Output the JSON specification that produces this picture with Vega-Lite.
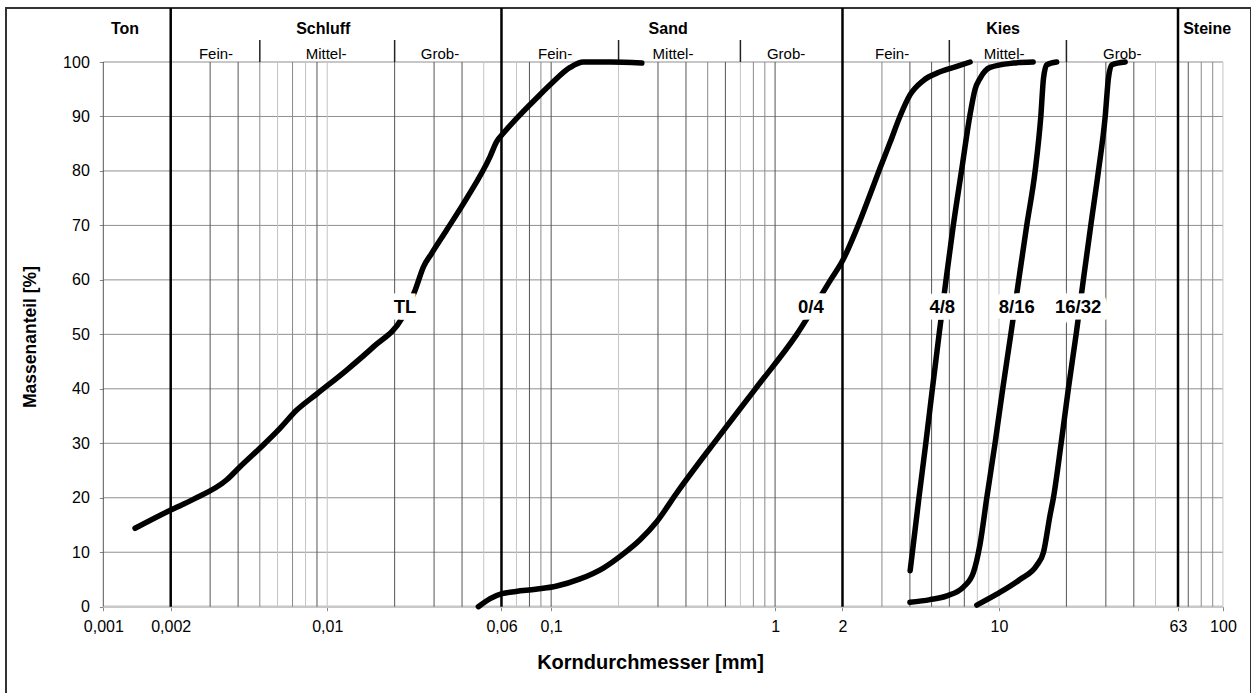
{
  "$schema": "https://vega.github.io/schema/vega-lite/v6.json",
  "width": 1245,
  "height": 686,
  "autosize": {"type": "none"},
  "padding": {"left": 6, "top": 8, "right": 0, "bottom": 0},
  "background": "white",
  "config": {
    "view": {"stroke": "#333333", "strokeWidth": 2},
    "font": "Liberation Sans"
  },
  "datasets": {
    "sieblinien": [
      {"kurve": "TL", "d": 0.001386, "p": 14.4},
      {"kurve": "TL", "d": 0.002, "p": 17.75},
      {"kurve": "TL", "d": 0.00252, "p": 19.7},
      {"kurve": "TL", "d": 0.00356, "p": 23.3},
      {"kurve": "TL", "d": 0.00408, "p": 25.7},
      {"kurve": "TL", "d": 0.00518, "p": 29.7},
      {"kurve": "TL", "d": 0.00615, "p": 32.75},
      {"kurve": "TL", "d": 0.00731, "p": 36.1},
      {"kurve": "TL", "d": 0.00898, "p": 39.05},
      {"kurve": "TL", "d": 0.01222, "p": 43.45},
      {"kurve": "TL", "d": 0.01607, "p": 47.7},
      {"kurve": "TL", "d": 0.0215, "p": 52.9},
      {"kurve": "TL", "d": 0.0247, "p": 58.1},
      {"kurve": "TL", "d": 0.0269, "p": 62.4},
      {"kurve": "TL", "d": 0.0293, "p": 64.9},
      {"kurve": "TL", "d": 0.0342, "p": 69.2},
      {"kurve": "TL", "d": 0.042, "p": 75},
      {"kurve": "TL", "d": 0.0533, "p": 82.6},
      {"kurve": "TL", "d": 0.0571, "p": 85.4},
      {"kurve": "TL", "d": 0.0611, "p": 86.9},
      {"kurve": "TL", "d": 0.0726, "p": 90.3},
      {"kurve": "TL", "d": 0.0862, "p": 93.4},
      {"kurve": "TL", "d": 0.1, "p": 96},
      {"kurve": "TL", "d": 0.1215, "p": 99},
      {"kurve": "TL", "d": 0.1393, "p": 100},
      {"kurve": "TL", "d": 0.1833, "p": 100},
      {"kurve": "TL", "d": 0.254, "p": 99.8},

      {"kurve": "0/4", "d": 0.0473, "p": 0},
      {"kurve": "0/4", "d": 0.0534, "p": 1.5},
      {"kurve": "0/4", "d": 0.0603, "p": 2.4},
      {"kurve": "0/4", "d": 0.0697, "p": 2.8},
      {"kurve": "0/4", "d": 0.0853, "p": 3.2},
      {"kurve": "0/4", "d": 0.106, "p": 3.8},
      {"kurve": "0/4", "d": 0.1346, "p": 5.1},
      {"kurve": "0/4", "d": 0.171, "p": 7.1},
      {"kurve": "0/4", "d": 0.21, "p": 9.7},
      {"kurve": "0/4", "d": 0.2495, "p": 12.3},
      {"kurve": "0/4", "d": 0.296, "p": 15.6},
      {"kurve": "0/4", "d": 0.364, "p": 20.9},
      {"kurve": "0/4", "d": 0.532, "p": 30},
      {"kurve": "0/4", "d": 0.817, "p": 40},
      {"kurve": "0/4", "d": 1.25, "p": 50},
      {"kurve": "0/4", "d": 1.77, "p": 60},
      {"kurve": "0/4", "d": 2.0, "p": 63.5},
      {"kurve": "0/4", "d": 2.35, "p": 70},
      {"kurve": "0/4", "d": 2.63, "p": 75.2},
      {"kurve": "0/4", "d": 2.94, "p": 80.5},
      {"kurve": "0/4", "d": 3.26, "p": 85.2},
      {"kurve": "0/4", "d": 3.61, "p": 90},
      {"kurve": "0/4", "d": 4.01, "p": 94},
      {"kurve": "0/4", "d": 4.59, "p": 96.6},
      {"kurve": "0/4", "d": 5.46, "p": 98.2},
      {"kurve": "0/4", "d": 6.48, "p": 99.2},
      {"kurve": "0/4", "d": 7.43, "p": 100},

      {"kurve": "4/8", "d": 4.01, "p": 6.6},
      {"kurve": "4/8", "d": 4.39, "p": 20},
      {"kurve": "4/8", "d": 4.71, "p": 30},
      {"kurve": "4/8", "d": 5.04, "p": 40},
      {"kurve": "4/8", "d": 5.40, "p": 50},
      {"kurve": "4/8", "d": 5.80, "p": 60},
      {"kurve": "4/8", "d": 6.25, "p": 70},
      {"kurve": "4/8", "d": 6.80, "p": 80},
      {"kurve": "4/8", "d": 7.40, "p": 90},
      {"kurve": "4/8", "d": 7.82, "p": 95},
      {"kurve": "4/8", "d": 8.23, "p": 97},
      {"kurve": "4/8", "d": 9.12, "p": 99},
      {"kurve": "4/8", "d": 11.6, "p": 99.8},
      {"kurve": "4/8", "d": 14.2, "p": 100},

      {"kurve": "8/16", "d": 4.0, "p": 0.8},
      {"kurve": "8/16", "d": 4.92, "p": 1.3},
      {"kurve": "8/16", "d": 5.85, "p": 2},
      {"kurve": "8/16", "d": 6.93, "p": 3.6},
      {"kurve": "8/16", "d": 7.69, "p": 6.3},
      {"kurve": "8/16", "d": 8.23, "p": 11.5},
      {"kurve": "8/16", "d": 8.82, "p": 20},
      {"kurve": "8/16", "d": 9.6, "p": 30},
      {"kurve": "8/16", "d": 10.39, "p": 40},
      {"kurve": "8/16", "d": 11.29, "p": 50},
      {"kurve": "8/16", "d": 12.25, "p": 60},
      {"kurve": "8/16", "d": 13.3, "p": 70},
      {"kurve": "8/16", "d": 14.5, "p": 80},
      {"kurve": "8/16", "d": 15.37, "p": 90},
      {"kurve": "8/16", "d": 15.8, "p": 97},
      {"kurve": "8/16", "d": 16.35, "p": 99.5},
      {"kurve": "8/16", "d": 18.1, "p": 100},

      {"kurve": "16/32", "d": 7.96, "p": 0.3},
      {"kurve": "16/32", "d": 9.77, "p": 2.3},
      {"kurve": "16/32", "d": 12.4, "p": 5},
      {"kurve": "16/32", "d": 14.75, "p": 7.6},
      {"kurve": "16/32", "d": 15.8, "p": 10},
      {"kurve": "16/32", "d": 16.9, "p": 16.8},
      {"kurve": "16/32", "d": 17.5, "p": 20},
      {"kurve": "16/32", "d": 18.94, "p": 30},
      {"kurve": "16/32", "d": 20.4, "p": 40},
      {"kurve": "16/32", "d": 22.1, "p": 50},
      {"kurve": "16/32", "d": 23.8, "p": 60},
      {"kurve": "16/32", "d": 25.7, "p": 70},
      {"kurve": "16/32", "d": 27.8, "p": 80},
      {"kurve": "16/32", "d": 29.8, "p": 90},
      {"kurve": "16/32", "d": 30.8, "p": 97},
      {"kurve": "16/32", "d": 31.9, "p": 99.5},
      {"kurve": "16/32", "d": 36.6, "p": 100}
    ],
    "beschriftung": [
      {"kurve": "TL", "d": 0.02226, "p": 53.9},
      {"kurve": "0/4", "d": 1.445, "p": 53.9},
      {"kurve": "4/8", "d": 5.58, "p": 53.9},
      {"kurve": "8/16", "d": 12.0, "p": 53.9},
      {"kurve": "16/32", "d": 22.56, "p": 53.9}
    ],
    "waagerecht": [
      {"p": 10}, {"p": 20}, {"p": 30}, {"p": 40}, {"p": 50},
      {"p": 60}, {"p": 70}, {"p": 80}, {"p": 90}, {"p": 100}
    ],
    "raster_dunkel": [
      {"d": 0.001}, {"d": 0.003}, {"d": 0.004}, {"d": 0.009}, {"d": 0.02},
      {"d": 0.03}, {"d": 0.04}, {"d": 0.08}, {"d": 0.1}, {"d": 0.3},
      {"d": 0.4}, {"d": 0.6}, {"d": 1}, {"d": 4}, {"d": 5},
      {"d": 6}, {"d": 7}, {"d": 20}, {"d": 30}, {"d": 40}, {"d": 70}
    ],
    "raster_mittel": [
      {"d": 0.005}, {"d": 0.007}, {"d": 0.09}, {"d": 0.5}, {"d": 0.8},
      {"d": 0.9}, {"d": 3}, {"d": 80}, {"d": 90}
    ],
    "raster_hell": [
      {"d": 0.006}, {"d": 0.008}, {"d": 0.01}, {"d": 0.05}, {"d": 0.07},
      {"d": 0.2}, {"d": 0.7}, {"d": 8}, {"d": 9}, {"d": 10},
      {"d": 50}, {"d": 100}
    ],
    "grenzen": [
      {"d": 0.002}, {"d": 0.06}, {"d": 2}, {"d": 63}
    ],
    "teilgrenzen": [
      {"d": 0.005}, {"d": 0.02}, {"d": 0.2}, {"d": 0.7}, {"d": 6}, {"d": 20}
    ],
    "bereiche": [
      {"name": "Ton", "d": 0.00125},
      {"name": "Schluff", "d": 0.0096},
      {"name": "Sand", "d": 0.333},
      {"name": "Kies", "d": 10.43},
      {"name": "Steine", "d": 85}
    ],
    "unterbereiche": [
      {"name": "Fein-", "d": 0.003186},
      {"name": "Mittel-", "d": 0.00988},
      {"name": "Grob-", "d": 0.0319},
      {"name": "Fein-", "d": 0.1041},
      {"name": "Mittel-", "d": 0.3502},
      {"name": "Grob-", "d": 1.12},
      {"name": "Fein-", "d": 3.33},
      {"name": "Mittel-", "d": 10.54},
      {"name": "Grob-", "d": 35.5}
    ]
  },
  "layer": [
    {
      "data": {"name": "waagerecht"},
      "mark": {"type": "rule", "color": "#8f8f8f", "strokeWidth": 1},
      "encoding": {
        "y": {"field": "p", "type": "quantitative"},
        "x": {"datum": 0.001, "type": "quantitative"},
        "x2": {"datum": 100}
      }
    },
    {
      "data": {"values": [{}]},
      "mark": {"type": "rule", "color": "#c8c8c8", "strokeWidth": 2.5},
      "encoding": {
        "y": {"datum": 0, "type": "quantitative"},
        "x": {"datum": 0.001, "type": "quantitative"},
        "x2": {"datum": 100}
      }
    },
    {
      "data": {"name": "raster_hell"},
      "mark": {"type": "rule", "color": "#c4c4c4", "strokeWidth": 1},
      "encoding": {
        "x": {"field": "d", "type": "quantitative"},
        "y": {"datum": 0, "type": "quantitative"},
        "y2": {"datum": 100}
      }
    },
    {
      "data": {"name": "raster_mittel"},
      "mark": {"type": "rule", "color": "#8a8a8a", "strokeWidth": 1},
      "encoding": {
        "x": {"field": "d", "type": "quantitative"},
        "y": {"datum": 0, "type": "quantitative"},
        "y2": {"datum": 100}
      }
    },
    {
      "data": {"name": "raster_dunkel"},
      "mark": {"type": "rule", "color": "#555555", "strokeWidth": 1},
      "encoding": {
        "x": {"field": "d", "type": "quantitative"},
        "y": {"datum": 0, "type": "quantitative"},
        "y2": {"datum": 100}
      }
    },
    {
      "data": {"name": "grenzen"},
      "mark": {"type": "rule", "color": "#000000", "strokeWidth": 2.5},
      "encoding": {
        "x": {"field": "d", "type": "quantitative"},
        "y": {"datum": 0, "type": "quantitative"},
        "y2": {"datum": 109.91}
      }
    },
    {
      "data": {"name": "teilgrenzen"},
      "mark": {"type": "rule", "color": "#222222", "strokeWidth": 1.5},
      "encoding": {
        "x": {"field": "d", "type": "quantitative"},
        "y": {"datum": 100, "type": "quantitative"},
        "y2": {"datum": 104.04}
      }
    },
    {
      "data": {"name": "sieblinien"},
      "mark": {"type": "line", "color": "#000000", "strokeWidth": 5.5, "interpolate": "monotone", "strokeCap": "round"},
      "encoding": {
        "detail": {"field": "kurve", "type": "nominal"},
        "x": {
          "field": "d",
          "type": "quantitative",
          "scale": {"type": "log", "domain": [0.0003677, 133.45], "nice": false},
          "axis": {
            "orient": "bottom",
            "offset": -87.3,
            "values": [0.001, 0.002, 0.01, 0.06, 0.1, 1, 2, 10, 63, 100],
            "labelExpr": "replace(toString(datum.value), '.', ',')",
            "domain": false,
            "grid": false,
            "ticks": true,
            "tickSize": 4,
            "tickColor": "#888888",
            "labelFont": "Liberation Sans",
            "labelFontSize": 16,
            "labelColor": "#000000",
            "labelPadding": 8,
            "labelFlush": false,
            "labelOverlap": false,
            "title": "Korndurchmesser [mm]",
            "titleFont": "Liberation Sans",
            "titleFontSize": 20,
            "titleFontWeight": "bold",
            "titleColor": "#000000",
            "titlePadding": 18,
            "titleX": 644
          }
        },
        "y": {
          "field": "p",
          "type": "quantitative",
          "scale": {"domain": [-16.027, 109.914], "nice": false, "zero": false},
          "axis": {
            "orient": "left",
            "offset": -97.3,
            "values": [0, 10, 20, 30, 40, 50, 60, 70, 80, 90, 100],
            "domain": false,
            "grid": false,
            "ticks": true,
            "tickSize": 4,
            "tickColor": "#888888",
            "labelFont": "Liberation Sans",
            "labelFontSize": 16,
            "labelColor": "#000000",
            "labelPadding": 10,
            "title": "Massenanteil [%]",
            "titleFont": "Liberation Sans",
            "titleFontSize": 17.5,
            "titleFontWeight": "bold",
            "titleColor": "#000000",
            "titlePadding": 23,
            "titleY": 328.5
          }
        }
      }
    },
    {
      "data": {"name": "beschriftung"},
      "mark": {"type": "text", "font": "Liberation Sans", "fontSize": 18.5, "fontWeight": "bold", "align": "center", "baseline": "alphabetic", "fill": "white", "stroke": "white", "strokeWidth": 13, "strokeJoin": "miter"},
      "encoding": {
        "x": {"field": "d", "type": "quantitative"},
        "y": {"field": "p", "type": "quantitative"},
        "text": {"field": "kurve"}
      }
    },
    {
      "data": {"name": "beschriftung"},
      "mark": {"type": "text", "font": "Liberation Sans", "fontSize": 18.5, "fontWeight": "bold", "align": "center", "baseline": "alphabetic", "color": "#000000"},
      "encoding": {
        "x": {"field": "d", "type": "quantitative"},
        "y": {"field": "p", "type": "quantitative"},
        "text": {"field": "kurve"}
      }
    },
    {
      "data": {"name": "bereiche"},
      "mark": {"type": "text", "font": "Liberation Sans", "fontSize": 16, "fontWeight": "bold", "align": "center", "baseline": "alphabetic", "color": "#000000"},
      "encoding": {
        "x": {"field": "d", "type": "quantitative"},
        "y": {"datum": 105.14, "type": "quantitative"},
        "text": {"field": "name"}
      }
    },
    {
      "data": {"name": "unterbereiche"},
      "mark": {"type": "text", "font": "Liberation Sans", "fontSize": 15, "align": "center", "baseline": "alphabetic", "color": "#000000"},
      "encoding": {
        "x": {"field": "d", "type": "quantitative"},
        "y": {"datum": 100.5, "type": "quantitative"},
        "text": {"field": "name"}
      }
    }
  ]
}
